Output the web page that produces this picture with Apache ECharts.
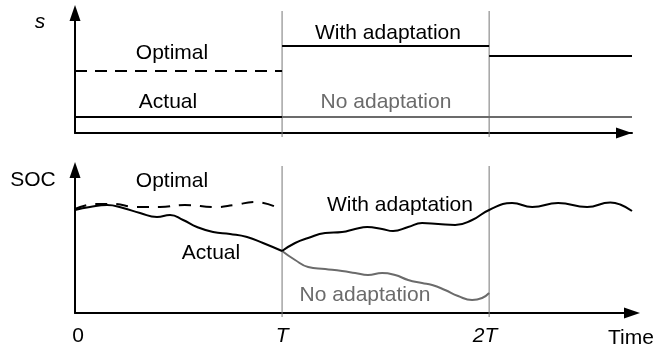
<!DOCTYPE html>
<html>
<head>
<meta charset="utf-8">
<script src="https://cdn.jsdelivr.net/npm/echarts@6/dist/echarts.min.js"></script>
<style>
  html, body { margin: 0; padding: 0; background: #fff; }
  #chart { width: 671px; height: 347px; }
</style>
</head>
<body>
<div id="chart"></div>
<script>
// Time is measured in control periods T; the horizon ends a little past 2T.
const periodMarks = [1, 2];
const tickLabels = ['0', 'T', '2T'];
const timeEnd = 2.69;

// Upper panel: schedule level s (arbitrary units)
const sOptimal = [[0, 62], [1, 62]];
const sActual = [[0, 16], [1, 16]];
const sWithAdaptation = [[1, 87], [2, 87], [2, null], [2, 77], [2.69, 77]];
const sNoAdaptation = [[1, 16], [2.69, 16]];

// Lower panel: state of charge (arbitrary units)
const socOptimal = [
  [0, 104], [0.10, 109], [0.18, 109], [0.30, 106], [0.41, 106],
  [0.53, 108], [0.68, 106], [0.77, 108], [0.87, 111], [0.97, 106]
];
const socActual = [
  [0, 103], [0.072, 106], [0.155, 108], [0.232, 105], [0.314, 100],
  [0.396, 96], [0.459, 98], [0.522, 93], [0.589, 86], [0.667, 81],
  [0.749, 79], [0.831, 76], [0.908, 70], [1, 62]
];
const socWithAdaptation = [
  [1, 62], [1.063, 70], [1.126, 75], [1.208, 80], [1.290, 81],
  [1.353, 84], [1.411, 86], [1.483, 84], [1.536, 82], [1.609, 86],
  [1.676, 90], [1.754, 89], [1.836, 88], [1.918, 93], [2, 103],
  [2.111, 110], [2.208, 106], [2.333, 110], [2.473, 106], [2.585, 110.5],
  [2.633, 108.5], [2.69, 102]
];
const socNoAdaptation = [
  [1, 62], [1.063, 53], [1.126, 46], [1.208, 44], [1.290, 42],
  [1.353, 40], [1.415, 38], [1.483, 40], [1.546, 38], [1.609, 33],
  [1.676, 30], [1.725, 28], [1.787, 23], [1.850, 17], [1.918, 13],
  [1.966, 15], [2, 20]
];

const FONT = '"Liberation Sans", Arial, Helvetica, sans-serif';
const BLACK = '#000';
const GREY = '#6b6b6b';
const GUIDE = '#777';

function axisX(gridIndex, showLabels, arrowOffset) {
  return {
    type: 'value', gridIndex, min: 0, max: timeEnd, interval: 1,
    axisLine: {
      show: true, onZero: false,
      lineStyle: { color: BLACK, width: 2 },
      symbol: ['none', 'triangle'], symbolSize: [11, 16], symbolOffset: [0, arrowOffset]
    },
    axisTick: { show: false },
    splitLine: { show: false },
    axisLabel: {
      show: showLabels, margin: 13, color: BLACK, fontFamily: FONT, fontSize: 21,
      formatter: v => {
        const i = Math.round(v);
        if (Math.abs(v - i) > 1e-6 || i < 0 || i >= tickLabels.length) return '';
        const style = ['origin', 'period', 'periodTwo'][i];
        return '{' + style + '|' + tickLabels[i] + '}';
      },
      rich: {
        origin: { fontFamily: FONT, fontSize: 21, color: BLACK, padding: [0, 0, 0, 6] },
        period: { fontStyle: 'italic', fontFamily: FONT, fontSize: 21, color: BLACK },
        periodTwo: { fontStyle: 'italic', fontFamily: FONT, fontSize: 21, color: BLACK, padding: [0, 8, 0, 0] }
      }
    }
  };
}

function axisY(gridIndex, max) {
  return {
    type: 'value', gridIndex, min: 0, max,
    axisLine: {
      show: true, onZero: false,
      lineStyle: { color: BLACK, width: 2 },
      symbol: ['none', 'triangle'], symbolSize: [11, 16]
    },
    axisTick: { show: false },
    axisLabel: { show: false },
    splitLine: { show: false }
  };
}

function line(name, data, xi, color, opts) {
  opts = opts || {};
  return {
    name, type: 'line', xAxisIndex: xi, yAxisIndex: xi, data,
    showSymbol: false, symbol: 'none', clip: false, connectNulls: false,
    smooth: opts.smooth || false, z: opts.z || 3, silent: true,
    lineStyle: { color, width: opts.width || 2, type: opts.dash || 'solid' }
  };
}

// vertical guides at T and 2T spanning each panel
function guides(xi, top) {
  return periodMarks.map(p => line('guide' + xi + '_' + p, [[p, -4], [p, top]], xi, GUIDE, { width: 1, z: 2 }));
}

function label(text, x, y, extra) {
  return {
    type: 'text', silent: true, z: 10,
    style: Object.assign({
      text, x, y, align: 'center', verticalAlign: 'middle',
      font: '21px ' + FONT, fill: BLACK
    }, extra || {})
  };
}

const chart = echarts.init(document.getElementById('chart'), null, { renderer: 'canvas' });
chart.setOption({
  animation: false,
  backgroundColor: '#fff',
  grid: [
    { left: 75, top: 13, width: 557, height: 120 },
    { left: 75, top: 170, width: 557, height: 143 }
  ],
  xAxis: [axisX(0, false, -8), axisX(1, true, 0)],
  yAxis: [axisY(0, 120), axisY(1, 143)],
  series: [
    ...guides(0, 122),
    ...guides(1, 147),
    line('s optimal', sOptimal, 0, BLACK, { dash: [12, 8] }),
    line('s actual', sActual, 0, BLACK),
    line('s no adaptation', sNoAdaptation, 0, GREY),
    line('s with adaptation', sWithAdaptation, 0, BLACK),
    line('SOC optimal', socOptimal, 1, BLACK, { dash: [12, 9], smooth: 0.5 }),
    line('SOC no adaptation', socNoAdaptation, 1, GREY, { smooth: 0.5 }),
    line('SOC actual', socActual, 1, BLACK, { smooth: 0.5 }),
    line('SOC with adaptation', socWithAdaptation, 1, BLACK, { smooth: 0.5 })
  ],
  graphic: [
    label('s', 40, 22, { font: 'italic 21px ' + FONT }),
    label('Optimal', 172, 53),
    label('Actual', 168, 102),
    label('With adaptation', 388, 33),
    label('No adaptation', 386, 102, { fill: GREY }),
    label('SOC', 33, 180),
    label('Optimal', 172, 181),
    label('Actual', 211, 253),
    label('With adaptation', 400, 205),
    label('No adaptation', 365, 295, { fill: GREY }),
    label('Time', 631, 338)
  ]
});
</script>
</body>
</html>
